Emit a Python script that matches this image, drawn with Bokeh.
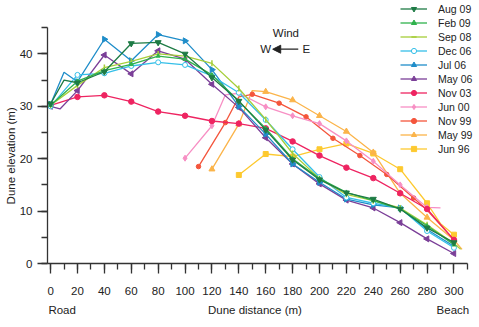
import numpy as np
from bokeh.plotting import figure
from bokeh.models import (Range1d, LinearAxis, FixedTicker, Legend, LegendItem,
                          Label, Arrow, NormalHead)
from bokeh.embed import file_html
from bokeh.resources import INLINE

# ---------------- data ----------------
series_names = ["Aug 09", "Feb 09", "Sep 08", "Dec 06", "Jul 06", "May 06",
                "Nov 03", "Jun 00", "Nov 99", "May 99", "Jun 96"]

x_aug09 = [0, 10, 20, 40, 60, 80, 100, 120, 140, 160, 180, 200, 220, 240, 260, 280, 300]
y_aug09 = [30.5, 35.0, 34.5, 36.6, 42.0, 42.2, 40.0, 35.5, 31.0, 25.5, 19.8, 16.0, 13.5, 12.3, 10.4, 6.8, 4.0]

x_feb09 = [0, 20, 40, 60, 80, 100, 120, 140, 160, 180, 200, 220, 240, 260, 280, 300]
y_feb09 = [30.2, 34.8, 36.8, 38.0, 39.6, 39.0, 36.0, 31.0, 25.8, 20.0, 16.2, 13.6, 12.0, 10.4, 7.2, 3.6]

x_sep08 = [0, 20, 40, 60, 80, 100, 120, 140, 160, 180, 200, 220, 240, 260, 280, 300, 305]
y_sep08 = [30.2, 34.0, 37.4, 38.6, 40.0, 39.6, 38.2, 33.4, 27.5, 21.0, 16.2, 13.2, 12.0, 10.6, 7.4, 3.8, 2.7]

x_dec06 = [0, 20, 40, 60, 80, 100, 120, 140, 160, 180, 200, 220, 240, 260, 280, 300]
y_dec06 = [30.0, 36.0, 36.3, 37.7, 38.4, 37.9, 35.8, 32.6, 27.4, 21.8, 16.5, 12.6, 11.5, 10.6, 6.2, 3.0]

x_jul06 = [0, 10, 20, 40, 60, 80, 100, 120, 140, 160, 180, 200, 220, 240, 260, 280, 300]
y_jul06 = [30.4, 36.5, 34.7, 42.8, 38.7, 43.7, 42.5, 37.0, 30.0, 24.7, 19.0, 15.5, 12.3, 11.2, 10.6, 6.5, 3.3]

x_may06 = [0, 7, 20, 40, 60, 80, 100, 120, 140, 160, 180, 200, 220, 240, 260, 280, 300]
y_may06 = [30.0, 29.5, 33.0, 39.8, 36.2, 40.6, 39.0, 34.2, 29.8, 24.0, 19.0, 15.2, 12.1, 10.6, 7.8, 4.7, 1.9]

x_nov03 = [0, 20, 40, 60, 80, 100, 120, 140, 160, 180, 200, 220, 240, 260, 280, 300]
y_nov03 = [30.2, 31.8, 32.1, 30.9, 29.0, 28.2, 27.2, 26.7, 25.8, 23.3, 20.6, 18.3, 16.3, 13.4, 10.4, 4.5]

x_jun00 = [100, 120, 130, 140, 160, 180, 200, 220, 240, 260, 280, 290]
y_jun00 = [20.1, 26.3, 32.2, 32.5, 29.9, 28.2, 26.7, 23.4, 19.5, 15.0, 10.7, 10.6]

x_nov99 = [110, 130, 140, 150, 170, 190, 210, 230, 250, 270, 280, 300]
y_nov99 = [18.5, 26.9, 31.8, 32.3, 30.6, 28.0, 23.9, 20.6, 17.0, 12.5, 10.2, 4.5]

x_may99 = [120, 140, 150, 160, 180, 200, 220, 240, 260, 280, 300, 306]
y_may99 = [18.0, 26.6, 33.0, 32.8, 31.2, 28.2, 25.2, 21.2, 13.4, 8.8, 4.5, 2.7]

x_jun96 = [140, 160, 180, 200, 220, 240, 260, 280, 290, 300]
y_jun96 = [16.9, 20.9, 20.4, 21.8, 22.9, 21.0, 18.0, 11.5, 7.6, 5.5]

x_major_ticks = [0, 20, 40, 60, 80, 100, 120, 140, 160, 180, 200, 220, 240, 260, 280, 300]
x_minor_ticks = [0, 10, 20, 30, 40, 50, 60, 70, 80, 90, 100, 110, 120, 130, 140, 150,
                 160, 170, 180, 190, 200, 210, 220, 230, 240, 250, 260, 270, 280, 290, 300, 310]
y_major_ticks = [0, 10, 20, 30, 40]
y_minor_ticks = [0, 5, 10, 15, 20, 25, 30, 35, 40, 45]

x_title_texts = ["Road", "Dune distance (m)", "Beach"]
y_title_text = "Dune elevation (m)"

# ---------------- styles ----------------
xs = [x_aug09, x_feb09, x_sep08, x_dec06, x_jul06, x_may06, x_nov03, x_jun00, x_nov99, x_may99, x_jun96]
ys = [y_aug09, y_feb09, y_sep08, y_dec06, y_jul06, y_may06, y_nov03, y_jun00, y_nov99, y_may99, y_jun96]
colors = ["#1e7b45", "#2fb24c", "#a6ce39", "#35bfe8", "#1f8dc9", "#7b3f98",
          "#ee2461", "#f78fc4", "#f4553c", "#fbb44a", "#fdc92f"]
markers = ["inverted_triangle", "triangle", "dash", "circle", "triangle", "triangle",
           "circle", "diamond", "circle", "triangle", "square"]
angles = [0, 0, np.pi / 2, 0, -np.pi / 2, np.pi / 2, 0, 0, 0, 0, 0]
sizes = [6, 4, 6, 5, 6, 6, 5.5, 6, 4.5, 6, 5]
fills = [None, None, None, "white", None, None, None, None, None, None, None]

FONT = "Liberation Sans"
AX = "#333333"
TXT = "#222222"

p = figure(width=479, height=327, x_range=Range1d(-2.3, 319), y_range=Range1d(0, 50.2),
           output_backend="svg", toolbar_location=None,
           x_axis_location=None, y_axis_location=None,
           min_border_left=47, min_border_right=0, min_border_top=0, min_border_bottom=64)
p.outline_line_color = None
p.xgrid.visible = False
p.ygrid.visible = False
p.background_fill_color = "white"

items = {}
for i in reversed(range(len(series_names))):
    x = np.array(xs[i], dtype=float)
    y = np.array(ys[i], dtype=float)
    ln = p.line(x, y, line_color=colors[i], line_width=1.3)
    mask = ((x - x[0]) % 20) == 0
    fc = fills[i] if fills[i] else colors[i]
    sc = p.scatter(x[mask], y[mask], marker=markers[i], size=sizes[i], angle=angles[i],
                   line_color=colors[i], fill_color=fc,
                   line_width=1.5 if markers[i] == "dash" else 1)
    items[i] = LegendItem(label=series_names[i], renderers=[ln, sc])

legend = Legend(items=[items[i] for i in range(len(series_names))],
                location=(353, 108), glyph_width=27, glyph_height=13, label_height=13,
                spacing=1, label_standoff=11, padding=0, margin=0,
                border_line_color=None, background_fill_alpha=0,
                label_text_font=FONT, label_text_font_size="10.5px", label_text_color=TXT)
p.add_layout(legend, "center")

xaxis = LinearAxis(ticker=FixedTicker(ticks=x_major_ticks, minor_ticks=x_minor_ticks),
                   bounds=(-2.3, 310))
yaxis = LinearAxis(ticker=FixedTicker(ticks=y_major_ticks, minor_ticks=y_minor_ticks),
                   bounds=(0, 45))
for ax in (xaxis, yaxis):
    ax.axis_line_color = AX
    ax.axis_line_width = 1.3
    ax.major_tick_line_color = AX
    ax.minor_tick_line_color = AX
    ax.major_tick_line_width = 1.3
    ax.minor_tick_line_width = 1.3
    ax.major_tick_out = 10
    ax.major_tick_in = 0
    ax.minor_tick_out = 6
    ax.minor_tick_in = 0
    ax.major_label_text_font = FONT
    ax.major_label_text_font_size = "11.5px"
    ax.major_label_text_color = TXT
xaxis.major_label_standoff = 13
yaxis.major_label_standoff = 5
p.add_layout(xaxis, "below")
p.add_layout(yaxis, "left")

# caption rows drawn as label-only axes at the captions' positions
title_pos = [8.6, 152, 299.2]
xt = LinearAxis(ticker=FixedTicker(ticks=title_pos, minor_ticks=[]),
                major_label_overrides={title_pos[k]: x_title_texts[k] for k in range(3)},
                axis_line_color=None, major_tick_line_color=None, minor_tick_line_color=None,
                major_tick_out=0, minor_tick_out=0,
                major_label_text_font=FONT, major_label_text_font_size="11.5px",
                major_label_text_color=TXT, major_label_standoff=6)
p.add_layout(xt, "below")

yt = LinearAxis(ticker=FixedTicker(ticks=[20.55], minor_ticks=[]),
                major_label_overrides={20.55: y_title_text},
                major_label_orientation="vertical",
                axis_line_color=None, major_tick_line_color=None, minor_tick_line_color=None,
                major_tick_out=0, minor_tick_out=0,
                major_label_text_font=FONT, major_label_text_font_size="11.5px",
                major_label_text_color=TXT, major_label_standoff=-1)
p.add_layout(yt, "left")

def lab(x, y, t, align="center", size="11.5px"):
    p.add_layout(Label(x=x, y=y, text=t, text_align=align, text_baseline="middle",
                       text_font=FONT, text_font_size=size, text_color=TXT))

lab(175, 44.0, "Wind")
lab(160, 40.9, "W")
lab(190.3, 40.9, "E")
p.add_layout(Arrow(x_start=184.2, y_start=40.9, x_end=165.2, y_end=40.9,
                   line_color=TXT, line_width=1.3,
                   end=NormalHead(size=8, fill_color=TXT, line_color=TXT)))

open("out.html", "w").write(file_html(p, INLINE))
